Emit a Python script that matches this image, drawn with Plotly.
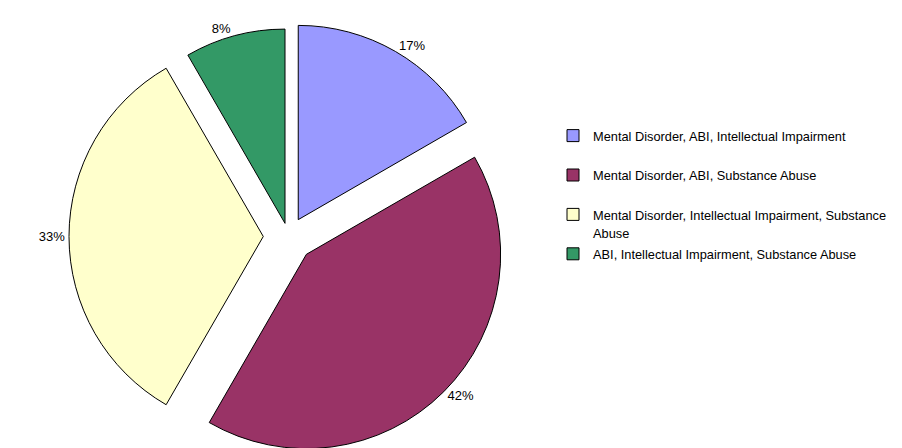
import plotly.graph_objects as go

categories = [
    "Mental Disorder, ABI, Intellectual Impairment",
    "Mental Disorder, ABI, Substance Abuse",
    "Mental Disorder, Intellectual Impairment, Substance Abuse",
    "ABI, Intellectual Impairment, Substance Abuse",
]
values = [2, 5, 4, 1]
colors = ["#9999FF", "#993366", "#FFFFCC", "#339966"]
pulls = [0.10, 0.13, 0.13, 0.07]

# legend text lines (the third label wraps in the original)
legend_lines = [
    ["Mental Disorder, ABI, Intellectual Impairment"],
    ["Mental Disorder, ABI, Substance Abuse"],
    ["Mental Disorder, Intellectual Impairment, Substance", "Abuse"],
    ["ABI, Intellectual Impairment, Substance Abuse"],
]

FONT = "Liberation Sans, Arial, sans-serif"
TXT = 13
LEG_TXT = 12.8


def legend_label(lines, last):
    parts = ["<span style='font-size:%spx'>%s</span>" % (LEG_TXT, s) for s in lines]
    if len(lines) == 1 and not last:
        parts.append(" ")
    return "<br>".join(parts)


labels = [legend_label(l, i == len(legend_lines) - 1) for i, l in enumerate(legend_lines)]

fig = go.Figure(
    go.Pie(
        labels=labels,
        values=values,
        sort=False,
        direction="clockwise",
        rotation=0,
        pull=pulls,
        marker=dict(colors=colors, line=dict(color="#000000", width=1)),
        textinfo="percent",
        texttemplate="%{percent:.0%}",
        textposition="outside",
        outsidetextfont=dict(family=FONT, size=TXT, color="#000000"),
        domain=dict(x=[0.0, 0.622], y=[0.0, 0.98]),
        hovertext=categories,
        hoverinfo="text+percent",
    )
)

fig.update_layout(
    width=902,
    height=448,
    margin=dict(l=0, r=0, t=0, b=0, autoexpand=False),
    paper_bgcolor="#FFFFFF",
    plot_bgcolor="#FFFFFF",
    font=dict(family=FONT, size=TXT, color="#000000"),
    showlegend=True,
    legend=dict(
        x=545 / 902,
        xanchor="left",
        y=1 - 112 / 448,
        yanchor="top",
        valign="top",
        bgcolor="rgba(0,0,0,0)",
        font=dict(family=FONT, size=14, color="#000000"),
        itemwidth=30,
    ),
)

fig.write_html("out.html")
